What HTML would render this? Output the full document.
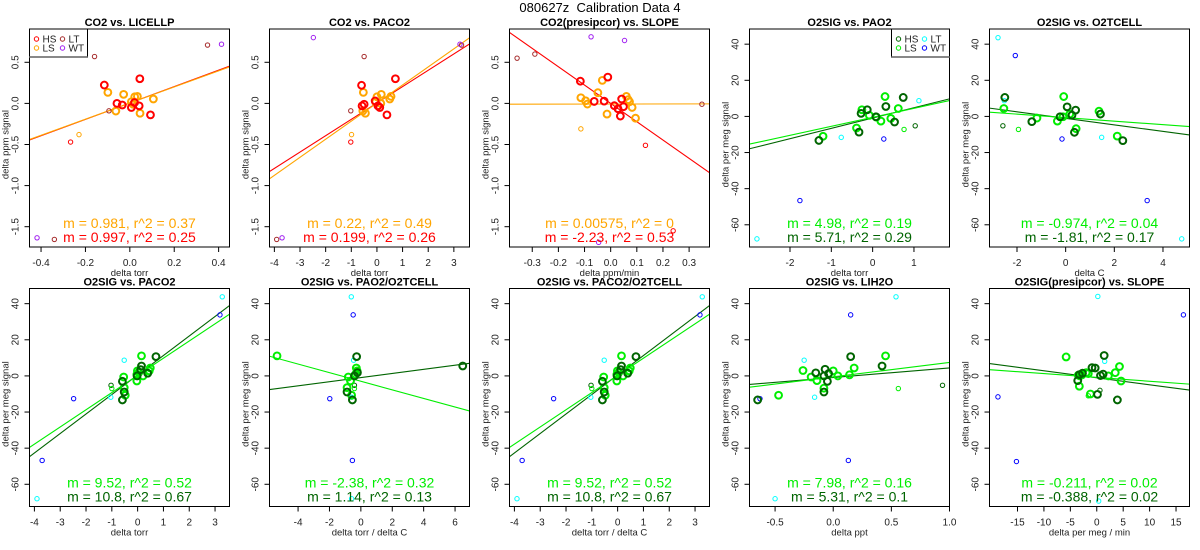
<!DOCTYPE html>
<html><head><meta charset="utf-8"><style>
html,body{margin:0;padding:0;background:#fff;}
svg{display:block;font-family:"Liberation Sans",Arial,sans-serif;}
</style></head><body>
<svg id="chart" width="1200" height="550" viewBox="0 0 1200 550" xmlns="http://www.w3.org/2000/svg">
<rect x="0" y="0" width="1200" height="550" fill="#fff"/>
<text x="600" y="12" font-size="13" text-anchor="middle" fill="#000">080627z&#160; Calibration Data 4</text>
</svg>
<script>
// ---------- Data ----------
// Panel 1: CO2 vs LICELLP
const p1_HS = [[-0.115,0.223],[-0.058,0],[-0.034,-0.02],[0.007,-0.05],[0.021,0.01],[0.045,0.30],[0.042,-0.03],[0.093,-0.14]];
const p1_LS = [[-0.099,0.134],[-0.063,-0.093],[-0.028,0.11],[0.007,0.02],[0.022,0.08],[0.034,0.085],[0.106,0.053],[0.046,-0.12],[0.015,-0.01]];
const p1_HSs = [[-0.267,-0.47]];
const p1_LSs = [[-0.229,-0.38]];
const p1_LT = [[-0.159,0.57],[-0.094,-0.09],[-0.34,-1.655],[0.35,0.71]];
const p1_WT = [[-0.418,-1.635],[0.413,0.72]];
const p1_fit_m = [0.997,0.981];
const p1_fit_b = [0.005,0.004];
// Panel 2: CO2 vs PACO2
const p2_HS = [[-0.60,0.22],[-0.50,-0.01],[-0.58,-0.03],[-0.07,0.03],[0.04,-0.03],[0.11,-0.05],[0.39,-0.14],[0.72,0.30]];
const p2_LS = [[-0.53,0.134],[-0.55,-0.093],[-0.45,-0.12],[0,0.08],[0.17,0.11],[-0.05,0.016],[0.5,0.053],[0.55,0.085],[0.15,0]];
const p2_HSs = [[-1.02,-0.47]];
const p2_LSs = [[-0.99,-0.38]];
const p2_LT = [[-1.02,-0.09],[-0.50,0.57],[-3.91,-1.655],[3.3,0.71]];
const p2_WT = [[-2.48,0.80],[-3.7,-1.635],[3.24,0.72]];
const p2_fit_m = [0.199,0.22];
const p2_fit_b = [0.005,0.004];
// Panel 3: CO2(presipcor) vs SLOPE
const p3_HS = [[-0.116,0.27],[-0.063,0.024],[-0.025,0.028],[-0.011,0.32],[0.014,-0.028],[0.028,-0.065],[0.037,-0.154],[0.049,-0.04],[0.042,0.053]];
const p3_LS = [[-0.114,0.069],[-0.096,0.032],[-0.089,-0.008],[-0.049,0.13],[-0.032,0.28],[-0.014,-0.13],[0.06,0.085],[0.067,0.045],[0.072,0.02],[0.082,-0.049],[0.095,-0.18]];
const p3_HSs = [[0.133,-0.51],[0.239,-1.55]];
const p3_LSs = [[-0.114,-0.31]];
const p3_LT = [[-0.358,0.55],[-0.29,0.60],[0.349,-0.01]];
const p3_WT = [[-0.075,0.81],[0.053,0.765],[-0.046,-1.69]];
const p3_fit_m = [-2.23,0.00575];
const p3_fit_b = [0.0,-0.008];
// Panel 4: O2SIG vs PAO2
const p4_HS = [[-1.3,-13.3],[-0.33,-8.7],[-0.28,1.7],[-0.13,3.7],[0.08,-0.2],[0.32,5.5],[0.74,10.5],[0.53,-3.1]];
const p4_LS = [[-1.2,-11],[-0.39,-6.4],[-0.26,3.7],[-0.08,0.6],[0.09,-0.4],[0.2,-2.6],[0.3,11],[0.44,-1.1],[0.62,4.4]];
const p4_HSs = [[1.03,-5.2]];
const p4_LSs = [[0.76,-7.2]];
const p4_LT = [[-0.76,-11.6],[-2.8,-67.8],[1.12,8.7]];
const p4_WT = [[-1.76,-46.6],[0.27,-12.5]];
const p4_fit_m = [5.71,4.98];
const p4_fit_b = [-0.9,-0.5];
// Panel 5: O2SIG vs O2TCELL
const p5_HS = [[-2.5,10.5],[-1.39,-2.9],[-0.23,-0.2],[0.06,5.3],[0.26,0.7],[0.36,-8.8],[0.41,3.5],[1.43,1.3],[2.35,-13.4]];
const p5_LS = [[-2.54,4.4],[-1.18,-0.9],[-0.34,-2.6],[-0.11,-0.2],[-0.08,11],[0.17,1.3],[0.43,-6.8],[1.37,2.9],[2.12,-10.9]];
const p5_HSs = [[-2.58,-5.2]];
const p5_LSs = [[-1.94,-7.2]];
const p5_LT = [[-2.78,43.6],[-2.52,8.7],[1.48,-11.6],[4.77,-67.8]];
const p5_WT = [[-2.07,33.7],[-0.15,-12.5],[3.35,-46.6]];
const p5_fit_m = [-1.81,-0.974];
const p5_fit_b = [-1.07,-0.68];
// Panel 6 / 8: O2SIG vs PACO2 (and PACO2/O2TCELL)
const p6_HS = [[-0.59,-13.3],[-0.52,-8.9],[-0.59,-3],[0.12,3.5],[0.15,5.5],[0.39,1.5],[0.71,10.7],[-0.02,0]];
const p6_LS = [[-0.52,-6.5],[-0.48,-10.7],[-0.54,-0.6],[-0.03,-2.8],[-0.03,0.7],[-0.01,2.8],[0.15,11.1],[0.21,0],[0.45,2.8],[0.49,4.4],[0.04,1.8]];
const p6_HSs = [[-1.03,-5.2]];
const p6_LSs = [[-1.0,-7]];
const p6_LT = [[-1.04,-11.8],[-0.52,8.7],[-3.9,-68],[3.28,43.8]];
const p6_WT = [[-2.48,-12.6],[-3.7,-46.8],[3.19,33.8]];
const p6_fit_m = [10.8,9.52];
const p6_fit_b = [0.5,0.3];
// Panel 7: O2SIG vs PAO2/O2TCELL
const p7_HS = [[-0.27,10.7],[-0.54,-13.3],[-0.88,-8.9],[6.49,5.5],[-0.41,0],[-0.22,1.8]];
const p7_LS = [[-5.34,11.1],[-0.8,-0.6],[-0.88,-6.5],[-0.59,-10.7],[-0.66,-2.8],[-0.29,4.4],[-0.24,2.8],[-0.34,0.9]];
const p7_HSs = [[-0.41,-5.2]];
const p7_LSs = [[-0.41,-7]];
const p7_LT = [[-0.61,43.8],[-0.46,8.7],[-0.59,-11.8],[-0.59,-68]];
const p7_WT = [[-0.49,33.8],[-1.98,-12.6],[-0.54,-46.8]];
const p7_fit_m = [1.14,-2.38];
const p7_fit_b = [-0.93,-2.95];
// Panel 9: O2SIG vs LIH2O
const p9_HS = [[-0.65,-13.3],[-0.08,-8.9],[-0.08,0],[-0.07,3.7],[-0.05,-3],[-0.04,1.3],[0.15,10.7],[0.42,5.5],[-0.15,1.7]];
const p9_LS = [[-0.47,-10.7],[-0.26,3],[-0.19,-0.6],[-0.14,-2.6],[-0.08,-6.8],[0.0,2.8],[0.04,0],[0.14,0.6],[0.18,4.4],[0.45,11.1]];
const p9_HSs = [[0.94,-5.2]];
const p9_LSs = [[0.56,-7]];
const p9_LT = [[-0.25,8.7],[-0.16,-11.8],[-0.5,-68],[0.54,43.8]];
const p9_WT = [[-0.63,-12.6],[0.15,33.8],[0.13,-46.8]];
const p9_fit_m = [5.31,7.98];
const p9_fit_b = [-0.9,-0.5];
// Panel 10: O2SIG(presipcor) vs SLOPE
const p10_HS = [[-3.6,-2.6],[-3.3,0.7],[-2.7,1.5],[-0.9,4.6],[-0.3,4.4],[0.14,-10.2],[0.7,0.2],[1.4,11.3],[3.9,-13.3],[1.2,1]];
const p10_LS = [[-5.8,10.5],[-3.3,-5.7],[-3.2,0],[-2,1.8],[-1.6,1.3],[-1.2,-10],[2.2,0],[3.5,1.8],[4.3,5.2],[4.6,-2.8],[-3.5,0.4],[-2.8,0.6]];
const p10_HSs = [[0.6,-8]];
const p10_LSs = [[-1.6,-11]];
const p10_LT = [[0.2,44],[1.5,8.1],[0.36,-69.3]];
const p10_WT = [[-18.7,-11.6],[-15.2,-47.4],[16.4,33.8]];
const p10_fit_m = [-0.388,-0.211];
const p10_fit_b = [-1.04,-0.84];

const co2Ticks = [-1.5,-1.0,-0.5,0.0,0.5];
const co2TickLabels = ["-1.5","-1.0","-0.5","0.0","0.5"];
const o2Ticks = [-60,-40,-20,0,20,40];
const o2TickLabels = ["-60","-40","-20","0","20","40"];

// ---------- Rendering ----------
const NS = "http://www.w3.org/2000/svg";
const svg = document.getElementById('chart');
function mk(tag, attrs, parent){
  const e = document.createElementNS(NS, tag);
  for (const k in attrs) e.setAttribute(k, attrs[k]);
  (parent||svg).appendChild(e);
  return e;
}
const CO2C = {HS:"#ff0000", LS:"#ffa500", LT:"#a52a2a", WT:"#a020f0"};
const O2C = {HS:"#006400", LS:"#00ee00", LT:"#00ffff", WT:"#0000ff"};
const lefts = [29.5,269.5,509.5,749.5,989.5];
const W = 200, TOPS = [29,288.5], H = 218;

const panels = [
 {c:0,r:0,name:"co2-vs-licellp",title:"CO2 vs. LICELLP",xl:"delta torr",yl:"delta ppm signal",xd:[-0.452,0.449],yd:[-1.747,0.905],xt:[-0.4,-0.2,0,0.2,0.4],xtl:["-0.4","-0.2","0.0","0.2","0.4"],co2:true,
  HS:p1_HS,LS:p1_LS,HSs:p1_HSs,LSs:p1_LSs,LT:p1_LT,WT:p1_WT,m:p1_fit_m,b:p1_fit_b,txt:["m = 0.981, r^2 = 0.37","m = 0.997, r^2 = 0.25"],legend:"left"},
 {c:1,r:0,name:"co2-vs-paco2",title:"CO2 vs. PACO2",xl:"delta torr",yl:"delta ppm signal",xd:[-4.19,3.61],yd:[-1.747,0.905],xt:[-4,-3,-2,-1,0,1,2,3],xtl:["-4","-3","-2","-1","0","1","2","3"],co2:true,
  HS:p2_HS,LS:p2_LS,HSs:p2_HSs,LSs:p2_LSs,LT:p2_LT,WT:p2_WT,m:p2_fit_m,b:p2_fit_b,txt:["m = 0.22, r^2 = 0.49","m = 0.199, r^2 = 0.26"]},
 {c:2,r:0,name:"co2-presipcor-vs-slope",title:"CO2(presipcor) vs. SLOPE",xl:"delta ppm/min",yl:"delta ppm signal",xd:[-0.387,0.378],yd:[-1.747,0.905],xt:[-0.3,-0.2,-0.1,0,0.1,0.2,0.3],xtl:["-0.3","-0.2","-0.1","0.0","0.1","0.2","0.3"],co2:true,
  HS:p3_HS,LS:p3_LS,HSs:p3_HSs,LSs:p3_LSs,LT:p3_LT,WT:p3_WT,m:p3_fit_m,b:p3_fit_b,txt:["m = 0.00575, r^2 = 0","m = -2.23, r^2 = 0.53"]},
 {c:3,r:0,name:"o2sig-vs-pao2",title:"O2SIG vs. PAO2",xl:"delta torr",yl:"delta per meg signal",xd:[-2.98,1.86],yd:[-72.3,48.4],xt:[-2,-1,0,1],xtl:["-2","-1","0","1"],
  HS:p4_HS,LS:p4_LS,HSs:p4_HSs,LSs:p4_LSs,LT:p4_LT,WT:p4_WT,m:p4_fit_m,b:p4_fit_b,txt:["m = 4.98, r^2 = 0.19","m = 5.71, r^2 = 0.29"],legend:"right"},
 {c:4,r:0,name:"o2sig-vs-o2tcell",title:"O2SIG vs. O2TCELL",xl:"delta C",yl:"delta per meg signal",xd:[-3.13,5.09],yd:[-72.3,48.4],xt:[-2,0,2,4],xtl:["-2","0","2","4"],
  HS:p5_HS,LS:p5_LS,HSs:p5_HSs,LSs:p5_LSs,LT:p5_LT,WT:p5_WT,m:p5_fit_m,b:p5_fit_b,txt:["m = -0.974, r^2 = 0.04","m = -1.81, r^2 = 0.17"]},
 {c:0,r:1,name:"o2sig-vs-paco2",title:"O2SIG vs. PACO2",xl:"delta torr",yl:"delta per meg signal",xd:[-4.19,3.56],yd:[-72.3,48.4],xt:[-4,-3,-2,-1,0,1,2,3],xtl:["-4","-3","-2","-1","0","1","2","3"],
  HS:p6_HS,LS:p6_LS,HSs:p6_HSs,LSs:p6_LSs,LT:p6_LT,WT:p6_WT,m:p6_fit_m,b:p6_fit_b,txt:["m = 9.52, r^2 = 0.52","m = 10.8, r^2 = 0.67"]},
 {c:1,r:1,name:"o2sig-vs-pao2-o2tcell",title:"O2SIG vs. PAO2/O2TCELL",xl:"delta torr / delta C",yl:"delta per meg signal",xd:[-5.82,6.92],yd:[-72.3,48.4],xt:[-4,-2,0,2,4,6],xtl:["-4","-2","0","2","4","6"],
  HS:p7_HS,LS:p7_LS,HSs:p7_HSs,LSs:p7_LSs,LT:p7_LT,WT:p7_WT,m:p7_fit_m,b:p7_fit_b,txt:["m = -2.38, r^2 = 0.32","m = 1.14, r^2 = 0.13"]},
 {c:2,r:1,name:"o2sig-vs-paco2-o2tcell",title:"O2SIG vs. PACO2/O2TCELL",xl:"delta torr / delta C",yl:"delta per meg signal",xd:[-4.19,3.56],yd:[-72.3,48.4],xt:[-4,-3,-2,-1,0,1,2,3],xtl:["-4","-3","-2","-1","0","1","2","3"],
  HS:p6_HS,LS:p6_LS,HSs:p6_HSs,LSs:p6_LSs,LT:p6_LT,WT:p6_WT,m:p6_fit_m,b:p6_fit_b,txt:["m = 9.52, r^2 = 0.52","m = 10.8, r^2 = 0.67"]},
 {c:3,r:1,name:"o2sig-vs-lih2o",title:"O2SIG vs. LIH2O",xl:"delta ppt",yl:"delta per meg signal",xd:[-0.72,1.0],yd:[-72.3,48.4],xt:[-0.5,0,0.5,1.0],xtl:["-0.5","0.0","0.5","1.0"],
  HS:p9_HS,LS:p9_LS,HSs:p9_HSs,LSs:p9_LSs,LT:p9_LT,WT:p9_WT,m:p9_fit_m,b:p9_fit_b,txt:["m = 7.98, r^2 = 0.16","m = 5.31, r^2 = 0.1"]},
 {c:4,r:1,name:"o2sig-presipcor-vs-slope",title:"O2SIG(presipcor) vs. SLOPE",xl:"delta per meg / min",yl:"delta per meg signal",xd:[-20.3,17.55],yd:[-72.3,48.4],xt:[-15,-10,-5,0,5,10,15],xtl:["-15","-10","-5","0","5","10","15"],
  HS:p10_HS,LS:p10_LS,HSs:p10_HSs,LSs:p10_LSs,LT:p10_LT,WT:p10_WT,m:p10_fit_m,b:p10_fit_b,txt:["m = -0.211, r^2 = 0.02","m = -0.388, r^2 = 0.02"]}
];

panels.forEach((p, i) => {
  const L = lefts[p.c], T = TOPS[p.r], R = L + W, B = T + H;
  const sx = v => L + (v - p.xd[0]) / (p.xd[1] - p.xd[0]) * W;
  const sy = v => B - (v - p.yd[0]) / (p.yd[1] - p.yd[0]) * H;
  const col = p.co2 ? CO2C : O2C;
  const g = mk('g', {});
  
  
  const clipId = 'clip' + i;
  const cp = mk('clipPath', {id: clipId}, g);
  mk('rect', {x: L, y: T, width: W, height: H}, cp);

  const t = mk('text', {x: L + W/2, y: T - 3, 'font-size': 11, 'font-weight': 'bold', 'text-anchor': 'middle'}, g);
  t.textContent = p.title;
  
  

  p.xt.forEach((v, k) => {
    const x = sx(v);
    mk('line', {x1: x, y1: B, x2: x, y2: B + 5, stroke: '#000', 'stroke-width': 1}, g);
    const tl = mk('text', {x: x, y: B + 19, 'font-size': 10, 'text-anchor': 'middle', fill: '#222'}, g);
    tl.textContent = p.xtl[k];
    
    
  });
  mk('line', {x1: sx(p.xt[0]), y1: B, x2: sx(p.xt[p.xt.length-1]), y2: B, stroke: '#000'}, g);
  const xl = mk('text', {x: L + W/2, y: B + 29, 'font-size': 9.5, 'text-anchor': 'middle', fill: '#222'}, g);
  xl.textContent = p.xl;
  
  

  const yt = p.co2 ? co2Ticks : o2Ticks, ytl = p.co2 ? co2TickLabels : o2TickLabels;
  yt.forEach((v, k) => {
    const y = sy(v);
    mk('line', {x1: L - 5, y1: y, x2: L, y2: y, stroke: '#000'}, g);
    const tl = mk('text', {x: 0, y: 0, 'font-size': 10, 'text-anchor': 'middle', fill: '#222', transform: `translate(${L - 11},${y}) rotate(-90)`}, g);
    tl.textContent = ytl[k];
    
    
  });
  mk('line', {x1: L, y1: sy(yt[0]), x2: L, y2: sy(yt[yt.length-1]), stroke: '#000'}, g);
  const yl = mk('text', {x: 0, y: 0, 'font-size': 9.5, 'text-anchor': 'middle', fill: '#222', transform: `translate(${L - 21},${B - H*0.47}) rotate(-90)`}, g);
  yl.textContent = p.yl;
  
  

  const pg = mk('g', {'clip-path': `url(#${clipId})`}, g);
  const fitCols = [col.HS, col.LS];
  const fitNames = ['fit-line-hs', 'fit-line-ls'];
  [0, 1].forEach(j => {
    const x0 = p.xd[0], x1 = p.xd[1];
    const ln = mk('line', {x1: sx(x0), y1: sy(p.m[j]*x0 + p.b[j]), x2: sx(x1), y2: sy(p.m[j]*x1 + p.b[j]), stroke: fitCols[j], 'stroke-width': 1.1}, pg);
    
    
  });
  const drawPts = (arr, color, big, nm) => arr.forEach(d => {
    const c = mk('circle', {cx: sx(d[0]), cy: sy(d[1]), r: big ? 3.4 : 2.2, fill: 'none', stroke: color, 'stroke-width': big ? 2 : 1}, pg);
    
    
  });
  drawPts(p.LT, col.LT, false, 'point-lt');
  drawPts(p.WT, col.WT, false, 'point-wt');
  drawPts(p.HSs, col.HS, false, 'point-hs');
  drawPts(p.LSs, col.LS, false, 'point-ls');
  drawPts(p.LS, col.LS, true, 'point-ls');
  drawPts(p.HS, col.HS, true, 'point-hs');

  mk('rect', {x: L, y: T, width: W, height: H, fill: 'none', stroke: '#000', 'stroke-width': 1}, g);

  const s1 = mk('text', {x: L + W/2, y: B - 19, 'font-size': 14, 'text-anchor': 'middle', fill: col.LS}, g);
  s1.textContent = p.txt[0];
  
  
  const s2 = mk('text', {x: L + W/2, y: B - 5, 'font-size': 14, 'text-anchor': 'middle', fill: col.HS}, g);
  s2.textContent = p.txt[1];
  
  

  if (p.legend) {
    const lx = p.legend === 'left' ? L : R - 58, ly = T;
    const lg = mk('g', {}, g);
    
    
    mk('rect', {x: lx, y: ly, width: 58, height: 28, fill: '#fff', stroke: '#000'}, lg);
    mk('line', {x1: lx, y1: ly + 28, x2: lx + 58, y2: ly + 28, stroke: '#888', 'stroke-width': 2}, lg);
    const ents = [['HS', 0, 0], ['LT', 1, 0], ['LS', 0, 1], ['WT', 1, 1]];
    ents.forEach(e => {
      const ex = lx + 7 + e[1]*26, ey = ly + 10 + e[2]*9;
      const eg = mk('g', {}, lg);
      
      
      mk('circle', {cx: ex, cy: ey, r: 2.2, fill: 'none', stroke: col[e[0]], 'stroke-width': 1}, eg);
      const et = mk('text', {x: ex + 6, y: ey + 3.5, 'font-size': 10, fill: '#222'}, eg);
      et.textContent = e[0];
    });
  }
});
</script>
</body></html>
